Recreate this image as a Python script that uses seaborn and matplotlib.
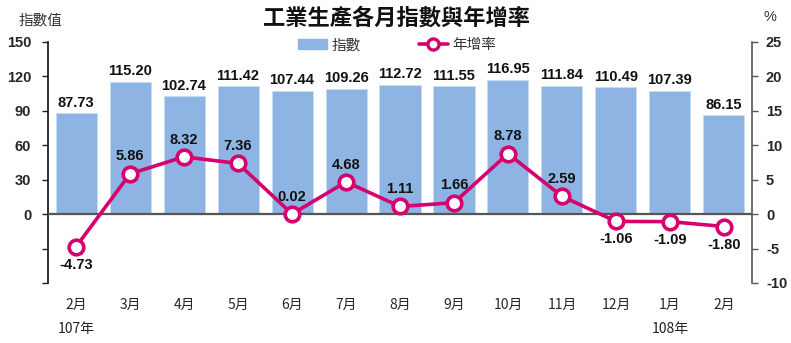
import numpy as np
import pandas as pd
import matplotlib
matplotlib.use("Agg")
import matplotlib.pyplot as plt
import matplotlib.transforms as mtransforms
from matplotlib.lines import Line2D
from matplotlib.patches import Patch
import seaborn as sns

# Monthly industrial production index and year-over-year growth
months = ["2月", "3月", "4月", "5月", "6月", "7月", "8月", "9月", "10月", "11月", "12月", "1月", "2月"]
index_values = [87.73, 115.20, 102.74, 111.42, 107.44, 109.26, 112.72, 111.55, 116.95, 111.84, 110.49, 107.39, 86.15]
growth_rates = [-4.73, 5.86, 8.32, 7.36, 0.02, 4.68, 1.11, 1.66, 8.78, 2.59, -1.06, -1.09, -1.80]
year_labels = {0: "107年", 11: "108年"}

sns.set_theme(style="white")
plt.rcParams["font.family"] = ["Liberation Sans", "Noto Sans CJK TC", "DejaVu Sans"]
NUM_FONT = ["Liberation Sans", "DejaVu Sans"]
CJK_FONT = ["Noto Sans CJK TC", "DejaVu Sans"]
NUM_KW = dict(family=NUM_FONT, fontweight="bold")

BAR_COLOR = "#8DB4E2"
LINE_COLOR = "#D6006F"

n = len(months)
df = pd.DataFrame({"pos": np.arange(n), "month": months, "index": index_values, "growth": growth_rates})

fig = plt.figure(figsize=(7.91, 3.43), dpi=100)
ax = fig.add_axes([0.0607, 0.175, 0.8900, 0.7026])
ax2 = ax.twinx()

sns.barplot(data=df, x="pos", y="index", ax=ax, color=BAR_COLOR, width=0.76,
            edgecolor="#C9DDF2", linewidth=0.6, saturation=1, zorder=2)
ax.set_ylim(-60, 150)
ax.set_xlim(-0.52, n - 1 + 0.52)
ax.axhline(0, color="#555555", lw=1.6, zorder=3)

sns.lineplot(data=df, x="pos", y="growth", ax=ax2, color=LINE_COLOR, lw=2.6,
             marker="o", markersize=10.5, markerfacecolor="white",
             markeredgecolor=LINE_COLOR, markeredgewidth=2.6, zorder=5)
ax2.set_ylim(-10, 25)
ax2.set_xlim(-0.52, n - 1 + 0.52)

# bar value labels
for p, v in zip(df["pos"], df["index"]):
    ax.text(p, v + 3, f"{v:.2f}", ha="center", va="bottom", fontsize=10.5,
            color="#111111", zorder=6, **NUM_KW)

# growth value labels
for p, g in zip(df["pos"], df["growth"]):
    if g >= 0:
        ax2.text(p, g + 1.5, f"{g:.2f}", ha="center", va="bottom", fontsize=10.5,
                 color="#111111", zorder=6, **NUM_KW)
    else:
        ax2.text(p, g - 1.6, f"{g:.2f}", ha="center", va="top", fontsize=10.5,
                 color="#111111", zorder=6, **NUM_KW)

# left axis
ax.set_yticks([-60, -30, 0, 30, 60, 90, 120, 150])
ax.set_yticklabels(["", "", "0", "30", "60", "90", "120", "150"])
ax.tick_params(axis="y", left=True, length=4, width=1, color="#222222", pad=8,
               labelsize=10.5)
for t in ax.get_yticklabels():
    t.set_fontweight("bold")
    t.set_family(NUM_FONT)

# right axis
ax2.set_yticks([-10, -5, 0, 5, 10, 15, 20, 25])
ax2.set_yticklabels(["-10", "-5", "0", "5", "10", "15", "20", "25"])
ax2.tick_params(axis="y", right=True, length=4, width=1, color="#555555", pad=6,
                labelsize=10.5)
for t in ax2.get_yticklabels():
    t.set_fontweight("bold")
    t.set_family(NUM_FONT)
    t.set_horizontalalignment("left")

# x axis labels
ax.set_xticks(np.arange(n))
ax.set_xticklabels(months, family=CJK_FONT, fontsize=10)
ax.tick_params(axis="x", bottom=False, pad=5)
ax.set_xlabel("")
ax.set_ylabel("")
ax2.set_ylabel("")
ax2.set_xlabel("")

trans = mtransforms.blended_transform_factory(ax.transData, fig.transFigure)
for p, lab in year_labels.items():
    fig.text(p, 1 - 329 / 343, lab, transform=trans, ha="center", va="center",
             family=CJK_FONT, fontsize=10, color="#222222")

# spines
for a in (ax, ax2):
    a.spines["top"].set_visible(False)
    a.spines["bottom"].set_visible(False)
ax.spines["left"].set_color("#111111")
ax.spines["left"].set_linewidth(1.2)
ax.spines["right"].set_visible(False)
ax2.spines["left"].set_visible(False)
ax2.spines["right"].set_color("#555555")
ax2.spines["right"].set_linewidth(1.2)

# titles and unit labels
fig.text(397 / 791, 1 - 18 / 343, "工業生產各月指數與年增率", ha="center", va="center",
         fontsize=16, fontweight="bold", family=CJK_FONT, color="#111111")
fig.text(19 / 791, 1 - 20 / 343, "指數值", ha="left", va="center",
         fontsize=10.5, family=CJK_FONT, color="#333333")
fig.text(770 / 791, 1 - 17 / 343, "%", ha="center", va="center",
         fontsize=10.5, family=NUM_FONT, color="#333333")

# legend
handles = [Patch(facecolor=BAR_COLOR, edgecolor=BAR_COLOR),
           Line2D([0], [0], color=LINE_COLOR, lw=2.6, marker="o", markersize=8,
                  markerfacecolor="white", markeredgecolor=LINE_COLOR, markeredgewidth=2.4)]
leg = ax2.legend(handles, ["指數", "年增率"], loc="center", ncol=2, frameon=False,
                 bbox_to_anchor=(397 / 791, 1 - 45 / 343), bbox_transform=fig.transFigure,
                 prop={"family": CJK_FONT, "size": 10.5}, handlelength=2.0,
                 handletextpad=0.3, columnspacing=4.0)
for t in leg.get_texts():
    t.set_color("#333333")

fig.savefig("out.png", dpi=100)
